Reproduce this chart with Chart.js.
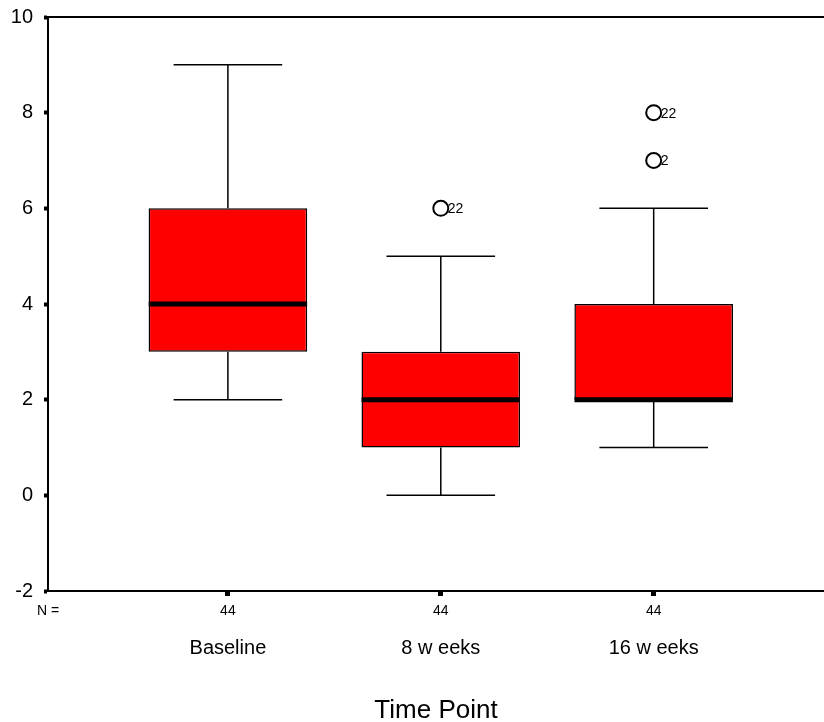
<!DOCTYPE html>
<html>
<head>
<title>Time Point boxplot</title>
<script src="https://cdn.jsdelivr.net/npm/chart.js@4"></script>
<style>
  body { margin: 0; background: #fff; }
</style>
</head>
<body>
<canvas id="boxChart" width="824" height="722"></canvas>
<script>
// data
const timePoints = ['Baseline', '8 w eeks', '16 w eeks'];
const positions = [1, 2, 3];
const nCounts = [44, 44, 44];
const mins = [2, 0, 1];
const q1s = [3, 1, 2];
const medians = [4, 2, 2];
const q3s = [6, 3, 4];
const maxs = [9, 5, 6];
const outlierGroup = [2, 3, 3];
const outlierValues = [6, 7, 8];
const outlierCases = ['22', '2', '22'];
const yTicks = [-2, 0, 2, 4, 6, 8, 10];

Chart.defaults.font.family = 'Arial, "Liberation Sans", sans-serif';
Chart.defaults.color = '#000';

// whiskers, caps, medians and the case labels, drawn through the scales
const boxExtras = {
    id: 'boxExtras',
    afterDatasetsDraw(chart) {
        const ctx = chart.ctx;
        const xs = chart.scales.x, ys = chart.scales.y;
        const step = xs.getPixelForValue(2) - xs.getPixelForValue(1);
        const capHalf = step * 0.255;
        const boxHalf = step * 0.372;
        const area = chart.chartArea;
        ctx.save();
        ctx.strokeStyle = '#000';
        for (let i = 0; i < positions.length; i++) {
            const x = xs.getPixelForValue(positions[i]);
            ctx.lineWidth = 1.5;
            ctx.beginPath();
            ctx.moveTo(x, ys.getPixelForValue(maxs[i]));
            ctx.lineTo(x, ys.getPixelForValue(q3s[i]));
            ctx.moveTo(x, ys.getPixelForValue(q1s[i]));
            ctx.lineTo(x, ys.getPixelForValue(mins[i]));
            ctx.moveTo(x - capHalf, ys.getPixelForValue(maxs[i]));
            ctx.lineTo(x + capHalf, ys.getPixelForValue(maxs[i]));
            ctx.moveTo(x - capHalf, ys.getPixelForValue(mins[i]));
            ctx.lineTo(x + capHalf, ys.getPixelForValue(mins[i]));
            ctx.stroke();
            ctx.lineWidth = 5;
            ctx.beginPath();
            ctx.moveTo(x - boxHalf, ys.getPixelForValue(medians[i]));
            ctx.lineTo(x + boxHalf, ys.getPixelForValue(medians[i]));
            ctx.stroke();
        }
        // top frame line
        ctx.lineWidth = 2;
        ctx.beginPath();
        ctx.moveTo(area.left, area.top);
        ctx.lineTo(area.right, area.top);
        ctx.stroke();

        ctx.fillStyle = '#000';
        ctx.font = '14px Arial, "Liberation Sans", sans-serif';
        ctx.textBaseline = 'middle';
        ctx.textAlign = 'left';
        for (let k = 0; k < outlierValues.length; k++) {
            const x = xs.getPixelForValue(outlierGroup[k]);
            const y = ys.getPixelForValue(outlierValues[k]);
            ctx.fillText(outlierCases[k], x + 7, y + 1);
        }
        // N counts under the axis
        ctx.textAlign = 'center';
        const nY = area.bottom + 20;
        ctx.fillText('N =', area.left, nY);
        for (let i = 0; i < positions.length; i++) {
            ctx.fillText(String(nCounts[i]), xs.getPixelForValue(positions[i]), nY);
        }
        ctx.restore();
    }
};

const ctxB = document.getElementById('boxChart').getContext('2d');
new Chart(ctxB, {
    data: {
        datasets: [{
            type: 'bar',
            data: positions.map((p, i) => ({ x: p, y: [q1s[i], q3s[i]] })),
            backgroundColor: '#ff0000',
            borderColor: '#000',
            borderWidth: 1.5,
            borderSkipped: false,
            barPercentage: 0.745,
            categoryPercentage: 1
        }, {
            type: 'scatter',
            data: outlierValues.map((v, k) => ({ x: outlierGroup[k], y: v })),
            pointRadius: 7.5,
            pointBorderWidth: 2,
            pointBorderColor: '#000',
            pointBackgroundColor: '#fff'
        }]
    },
    options: {
        responsive: false,
        animation: false,
        layout: { autoPadding: false, padding: { top: 17, left: 0, right: 0, bottom: 0 } },
        plugins: { legend: { display: false }, tooltip: { enabled: false } },
        scales: {
            x: {
                type: 'linear',
                offset: false,
                min: 0.155,
                max: 3.8,
                afterBuildTicks(scale) { scale.ticks = positions.map(v => ({ value: v })); },
                afterFit(scale) {
                    scale.height = 131;
                    scale.paddingLeft = 0;
                    scale.paddingRight = 0;
                },
                grid: { offset: false, drawOnChartArea: false, drawTicks: true, tickLength: 5, tickWidth: 5, tickColor: '#000' },
                border: { display: true, color: '#000', width: 2 },
                ticks: {
                    autoSkip: false,
                    maxRotation: 0,
                    padding: 40,
                    font: { size: 20 },
                    callback: (v) => timePoints[positions.indexOf(v)] || ''
                },
                title: { display: true, text: 'Time Point', font: { size: 26, lineHeight: 1 }, padding: { top: 0, bottom: -2 } }
            },
            y: {
                min: -2,
                max: 10,
                afterBuildTicks(scale) { scale.ticks = yTicks.map(v => ({ value: v })); },
                afterFit(scale) {
                    scale.width = 48;
                    scale.paddingTop = 0;
                    scale.paddingBottom = 0;
                },
                grid: { drawOnChartArea: false, drawTicks: true, tickLength: 4, tickWidth: 4, tickColor: '#000' },
                border: { display: true, color: '#000', width: 2 },
                ticks: { padding: 11, font: { size: 20 } }
            }
        }
    },
    plugins: [boxExtras]
});
</script>
</body>
</html>
